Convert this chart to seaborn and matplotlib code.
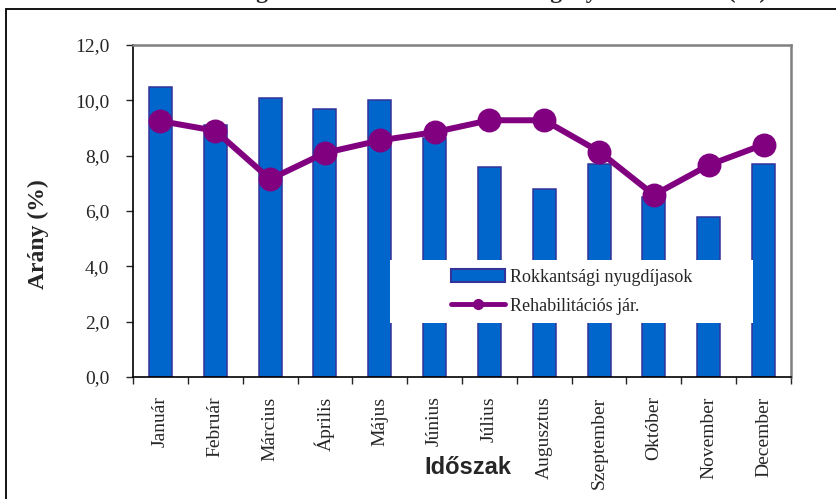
import matplotlib
matplotlib.use('Agg')
import matplotlib.pyplot as plt
import seaborn as sns
from matplotlib.patches import Patch, Rectangle
from matplotlib.lines import Line2D
from matplotlib.ticker import FuncFormatter, FixedLocator

# Data
months = ['Január', 'Február', 'Március', 'Április', 'Május', 'Június',
          'Július', 'Augusztus', 'Szeptember', 'Október', 'November', 'December']
rokkant = [10.5, 9.1, 10.1, 9.7, 10.0, 8.65, 7.6, 6.8, 7.7, 6.5, 5.8, 7.7]
rehab = [9.25, 8.9, 7.15, 8.1, 8.55, 8.85, 9.28, 9.28, 8.15, 6.58, 7.66, 8.4]
series_names = ['Rokkantsági nyugdíjasok', 'Rehabilitációs jár.']
title = 'A rokkantsági és rehabilitációs ellátások igénylése havonta (%)'

bar_color = '#0066CC'
bar_edge = '#333399'
line_color = '#800080'

sns.set_style('white')
plt.rcParams['font.family'] = ['Liberation Serif', 'DejaVu Serif']

fig = plt.figure(figsize=(8.37, 4.99), dpi=100)
W, H = 837, 499
ax = fig.add_axes([133 / W, 1 - 377 / H, (791 - 133) / W, (377 - 45) / H])

sns.barplot(x=months, y=rokkant, color=bar_color, saturation=1, edgecolor=bar_edge,
            linewidth=1.1, width=0.42, ax=ax)
sns.pointplot(x=months, y=rehab, color=line_color, markers='o', markersize=14,
              linewidth=4.3, ax=ax)

ax.set_xlim(-0.5, 11.5)
ax.set_ylim(0, 12)
ax.set_xlabel('')
ax.set_ylabel('')

# y axis
ax.set_yticks([0, 2, 4, 6, 8, 10, 12])
ax.yaxis.set_major_formatter(FuncFormatter(lambda v, p: f'{v:.1f}'.replace('.', ',')))
ax.tick_params(axis='y', which='major', direction='out', length=5, width=1,
               pad=12, labelsize=14, left=True)

# x axis: labels at centres, tick marks between categories
ax.set_xticks(range(len(months)))
ax.set_xticklabels(months, rotation=90)
ax.xaxis.set_minor_locator(FixedLocator([i - 0.5 for i in range(len(months) + 1)]))
ax.tick_params(axis='x', which='major', length=0, pad=14, labelsize=14)
ax.tick_params(axis='x', which='minor', direction='out', length=5, width=1, bottom=True)

for s in ['left', 'bottom']:
    ax.spines[s].set_color('black')
    ax.spines[s].set_linewidth(1.2)
for s in ['top', 'right']:
    ax.spines[s].set_color('#808080')
    ax.spines[s].set_linewidth(1.8)

# white legend area covering the bars
ax.add_patch(Rectangle((0.39, 0.163), 0.552, 0.189, transform=ax.transAxes,
                       facecolor='white', edgecolor='none', zorder=4))
handles = [Patch(facecolor=bar_color, edgecolor=bar_edge, linewidth=1.5),
           Line2D([], [], color=line_color, lw=3.5, marker='o', markersize=7)]
leg = ax.legend(handles, series_names, loc='center left', bbox_to_anchor=(0.483, 0.257),
                frameon=False, fontsize=13, handlelength=3.0, handleheight=0.7,
                handletextpad=0.3, labelspacing=0.65, borderaxespad=0, borderpad=0)
leg.set_zorder(5)

fig.text(38 / W, 1 - 234 / H, 'Arány (%)', rotation=90, ha='center', va='center',
         fontsize=17, fontweight='bold')
fig.text(468 / W, 1 - 468 / H, 'Időszak', ha='center', va='center', fontsize=17,
         fontweight='bold', family=['Liberation Sans', 'DejaVu Sans'])
# title is cut off by the top edge, only its lowest strokes show
fig.text(450 / W, 1 + 2 / H, title, ha='center', va='top', fontsize=17,
         fontweight='bold').set_va('baseline')

# outer frame
fig.patches.append(Rectangle((6 / W, -0.1), 1.2, 1.1 - 8.5 / H, transform=fig.transFigure,
                             fill=False, edgecolor='black', linewidth=1.3))

fig.savefig('out.png', dpi=100)
